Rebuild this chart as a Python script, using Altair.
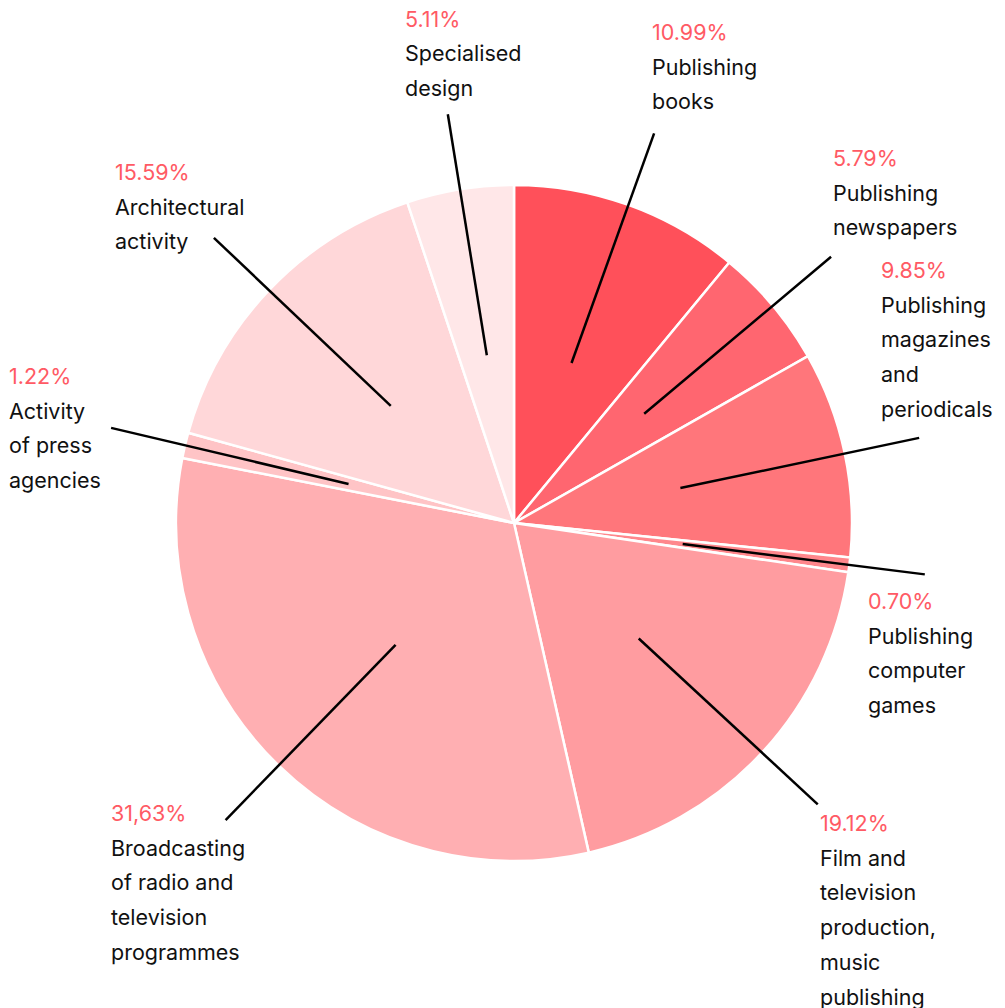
import altair as alt
import pandas as pd
import numpy as np

# ---- data ----
categories = [
    "Publishing books",
    "Publishing newspapers",
    "Publishing magazines and periodicals",
    "Publishing computer games",
    "Film and television production, music publishing",
    "Broadcasting of radio and television programmes",
    "Activity of press agencies",
    "Architectural activity",
    "Specialised design",
]
shares = [10.99, 5.79, 9.85, 0.70, 19.12, 31.63, 1.22, 15.59, 5.11]
share_labels = ["10.99%", "5.79%", "9.85%", "0.70%", "19.12%", "31,63%", "1.22%", "15.59%", "5.11%"]
name_lines = [
    ["Publishing", "books"],
    ["Publishing", "newspapers"],
    ["Publishing", "magazines", "and", "periodicals"],
    ["Publishing", "computer", "games"],
    ["Film and", "television", "production,", "music", "publishing"],
    ["Broadcasting", "of radio and", "television", "programmes"],
    ["Activity", "of press", "agencies"],
    ["Architectural", "activity"],
    ["Specialised", "design"],
]
colors = ["#ff505a", "#ff6670", "#ff767b", "#ff878c", "#ff9ca0",
          "#ffafb2", "#ffc4c6", "#ffd7d9", "#ffe7e8"]

# ---- layout (pixels) ----
W, H = 989, 1000
CX, CY = 506, 515          # pie centre inside the view
R = 338                    # pie radius
R_IN, R_OUT = 170, 414     # leader line start / end radius
LINE_H = 34.7
FONT = "Inter"
FS = 21.5
label_left = [652, 833, 881, 868, 820, 111, 9, 115, 405]   # page px
label_top = [34, 160, 272, 603, 825, 815, 378, 174, 20.5]  # page px (percent line centre)

xscale = alt.Scale(domain=[-CX, W - CX], range=[0, W], nice=False, zero=False)
yscale = alt.Scale(domain=[-(H - CY), CY], nice=False, zero=False)

slices = pd.DataFrame({"cat": categories, "share": shares, "idx": range(len(categories))})

cum = np.cumsum([0] + shares[:-1])
mid = (cum + np.array(shares) / 2) / 100 * 2 * np.pi
lines = pd.DataFrame({
    "cat": categories,
    "x1": R_IN * np.sin(mid), "y1": R_IN * np.cos(mid),
    "x2": R_OUT * np.sin(mid), "y2": R_OUT * np.cos(mid),
})

pct_rows, name_rows = [], []
for i, c in enumerate(categories):
    lx = label_left[i] - 8 - CX
    ly = CY - (label_top[i] - 8)
    pct_rows.append({"x": lx, "y": ly, "t": share_labels[i]})
    for j, ln in enumerate(name_lines[i]):
        name_rows.append({"x": lx, "y": ly - (j + 1) * LINE_H, "t": ln})
pct_df = pd.DataFrame(pct_rows)
name_df = pd.DataFrame(name_rows)

arc = alt.Chart(slices).mark_arc(outerRadius=R, stroke="white", strokeWidth=2.5).encode(
    theta=alt.Theta("share:Q", stack=True),
    order=alt.Order("idx:Q"),
    color=alt.Color("cat:N", scale=alt.Scale(domain=categories, range=colors), legend=None),
    x=alt.X(datum=0, type="quantitative", scale=xscale, axis=None),
    y=alt.Y(datum=0, type="quantitative", scale=yscale, axis=None),
)

rules = alt.Chart(lines).mark_rule(color="black", strokeWidth=2.5).encode(
    x=alt.X("x1:Q", scale=xscale, axis=None),
    y=alt.Y("y1:Q", scale=yscale, axis=None),
    x2="x2:Q",
    y2="y2:Q",
)

pct = alt.Chart(pct_df).mark_text(
    align="left", baseline="middle", font=FONT, fontSize=FS, color="#ff5a64"
).encode(
    x=alt.X("x:Q", scale=xscale, axis=None),
    y=alt.Y("y:Q", scale=yscale, axis=None),
    text="t:N",
)

names = alt.Chart(name_df).mark_text(
    align="left", baseline="middle", font=FONT, fontSize=FS, color="#111111"
).encode(
    x=alt.X("x:Q", scale=xscale, axis=None),
    y=alt.Y("y:Q", scale=yscale, axis=None),
    text="t:N",
)

chart = alt.layer(arc, rules, pct, names).properties(
    width=W, height=H, autosize=alt.AutoSizeParams(type="none"), padding=0
).configure_view(stroke=None)

chart.save("out.html", embed_options={"renderer": "svg", "actions": False})
